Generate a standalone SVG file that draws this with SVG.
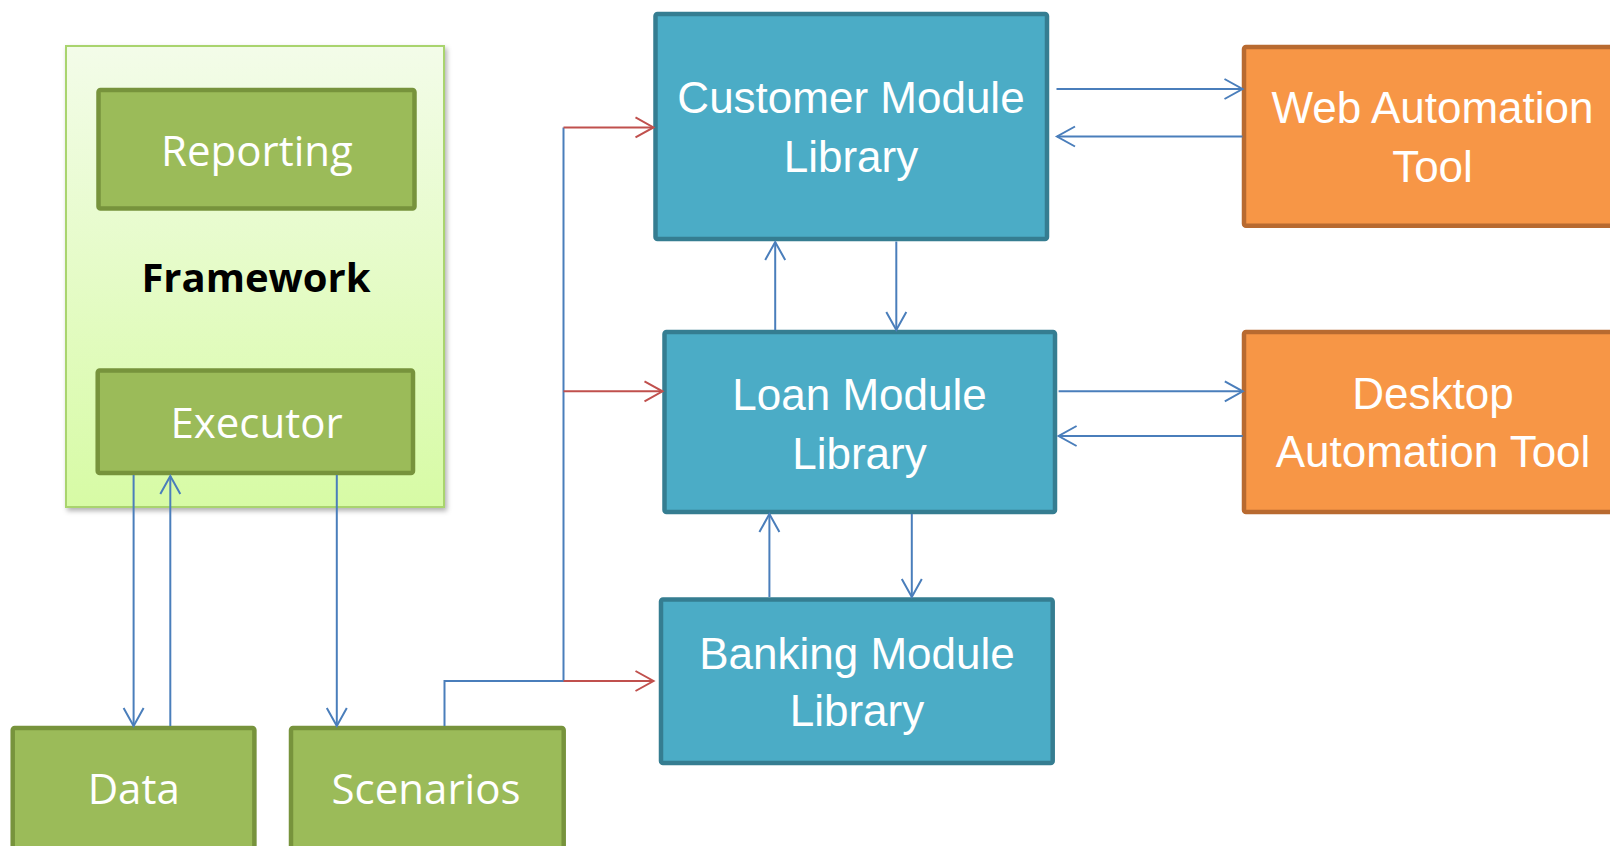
<svg xmlns="http://www.w3.org/2000/svg" width="1610" height="846" viewBox="0 0 1610 846">
<defs>
<linearGradient id="fwGrad" x1="0" y1="0" x2="0" y2="1">
<stop offset="0" stop-color="#f3fce9"/>
<stop offset="1" stop-color="#d7fba5"/>
</linearGradient>
<filter id="shadow" x="-10%" y="-10%" width="120%" height="120%">
<feDropShadow dx="2" dy="3" stdDeviation="2.5" flood-color="#000" flood-opacity="0.3"/>
</filter>
<marker id="ahBlue" markerUnits="userSpaceOnUse" markerWidth="24" markerHeight="24" viewBox="-20 -12 24 24" refX="0" refY="0" orient="auto">
<path d="M-18,-10 L0,0 L-18,10" fill="none" stroke="#4a7ebb" stroke-width="2"/>
</marker>
<marker id="ahRed" markerUnits="userSpaceOnUse" markerWidth="24" markerHeight="24" viewBox="-20 -12 24 24" refX="0" refY="0" orient="auto">
<path d="M-18,-10 L0,0 L-18,10" fill="none" stroke="#c0504d" stroke-width="2"/>
</marker>
</defs>
<style>
.green{fill:#9bbb59;stroke:#77933c;stroke-width:4.5}
.blue{fill:#4bacc6;stroke:#357d91;stroke-width:4.5}
.orange{fill:#f79646;stroke:#b86a30;stroke-width:4.5}
.lt{font-family:"Open Sans","Noto Sans",sans-serif;font-size:42px;fill:#ffffff;text-anchor:middle}
.mt{font-family:"Liberation Sans",Arial,sans-serif;font-size:44px;fill:#ffffff;text-anchor:middle}
.fw{font-family:"Open Sans","Noto Sans",sans-serif;font-size:40px;font-weight:bold;fill:#000000;text-anchor:middle}
.cb{fill:none;stroke:#4a7ebb;stroke-width:2}
.cr{fill:none;stroke:#c0504d;stroke-width:2}
</style>
<rect width="1610" height="846" fill="#ffffff"/>

<g id="framework">
<rect x="66" y="46" width="378" height="461" fill="url(#fwGrad)" stroke="#a9d46e" stroke-width="2" filter="url(#shadow)"/>
<text class="fw" x="256" y="292">Framework</text>
</g>
<g id="reporting">
<rect class="green" x="98.5" y="90" width="316" height="118.5" rx="2"/>
<text class="lt" x="257" y="166">Reporting</text>
</g>
<g id="executor">
<rect class="green" x="97.7" y="370.5" width="315.3" height="102.5" rx="2"/>
<text class="lt" x="256.5" y="438">Executor</text>
</g>
<g id="data">
<rect class="green" x="12.7" y="728" width="241.7" height="140" rx="2"/>
<text class="lt" x="133.7" y="804">Data</text>
</g>
<g id="scenarios">
<rect class="green" x="291" y="728" width="272.7" height="140" rx="2"/>
<text class="lt" x="426" y="804">Scenarios</text>
</g>
<g id="customer">
<rect class="blue" x="655.5" y="14" width="391.5" height="225" rx="2"/>
<text class="mt" x="851" y="113">Customer Module</text>
<text class="mt" x="851" y="171.5">Library</text>
</g>
<g id="loan">
<rect class="blue" x="664.5" y="332" width="390.5" height="180" rx="2"/>
<text class="mt" x="859.5" y="410">Loan Module</text>
<text class="mt" x="859.5" y="468.5">Library</text>
</g>
<g id="banking">
<rect class="blue" x="661" y="599.5" width="391.7" height="163.5" rx="2"/>
<text class="mt" x="857" y="669">Banking Module</text>
<text class="mt" x="857" y="726">Library</text>
</g>
<g id="web">
<rect class="orange" x="1244" y="47" width="380" height="178.7" rx="2"/>
<text class="mt" x="1432.5" y="123">Web Automation</text>
<text class="mt" x="1432.5" y="181.5">Tool</text>
</g>
<g id="desktop">
<rect class="orange" x="1244" y="332" width="380" height="180" rx="2"/>
<text class="mt" x="1433" y="408.5">Desktop</text>
<text class="mt" x="1433" y="467">Automation Tool</text>
</g>

<g id="connectors">
<path class="cb" d="M133.6,475 V726" marker-end="url(#ahBlue)"/>
<path class="cb" d="M170.3,726 V476" marker-end="url(#ahBlue)"/>
<path class="cb" d="M336.8,475 V726" marker-end="url(#ahBlue)"/>
<path class="cb" d="M444.5,726 V681 H563.5 V127.4"/>
<path class="cr" d="M563.5,127.4 H653.5" marker-end="url(#ahRed)"/>
<path class="cr" d="M563.5,391.3 H662.5" marker-end="url(#ahRed)"/>
<path class="cr" d="M563.5,681 H653.5" marker-end="url(#ahRed)"/>
<path class="cb" d="M1056.5,89 H1242.5" marker-end="url(#ahBlue)"/>
<path class="cb" d="M1242.5,136.5 H1057" marker-end="url(#ahBlue)"/>
<path class="cb" d="M775.2,330 V242" marker-end="url(#ahBlue)"/>
<path class="cb" d="M896.3,241.5 V330" marker-end="url(#ahBlue)"/>
<path class="cb" d="M1058.6,391.3 H1242.8" marker-end="url(#ahBlue)"/>
<path class="cb" d="M1242.8,436 H1058.6" marker-end="url(#ahBlue)"/>
<path class="cb" d="M769.4,597 V514" marker-end="url(#ahBlue)"/>
<path class="cb" d="M911.8,514 V597" marker-end="url(#ahBlue)"/>
</g>
</svg>
